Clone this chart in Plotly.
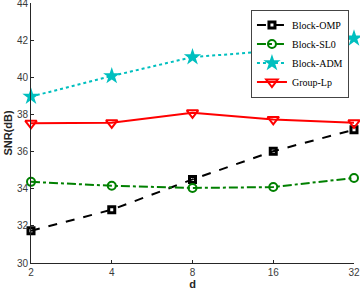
import math
import plotly.graph_objects as go

d_vals = [2, 4, 8, 16, 32]
tick_labels = ["2", "4", "8", "16", "32"]
y_ticks = [30, 32, 34, 36, 38, 40, 42, 44]
omp = [31.73, 32.87, 34.5, 36.02, 37.18]
sl0 = [34.37, 34.16, 34.04, 34.09, 34.58]
adm = [38.96, 40.07, 41.09, 41.42, 42.1]
glp = [37.52, 37.55, 38.09, 37.73, 37.55]

fig = go.Figure()
fig.add_trace(go.Scatter(x=d_vals, y=omp, name="Block-OMP", mode="lines+markers",
                         line=dict(color="black", width=2, dash="dash"),
                         marker=dict(symbol="square-open", size=6, color="black", line=dict(width=3)),
                         cliponaxis=False))
fig.add_trace(go.Scatter(x=d_vals, y=sl0, name="Block-SL0", mode="lines+markers",
                         line=dict(color="#008000", width=2, dash="dashdot"),
                         marker=dict(symbol="circle-open", size=8, color="#008000", line=dict(width=2)),
                         cliponaxis=False))
fig.add_trace(go.Scatter(x=d_vals, y=adm, name="Block-ADM", mode="lines+markers",
                         line=dict(color="#00BFBF", width=2, dash="dot"),
                         marker=dict(symbol="star", size=13, color="#00BFBF"),
                         cliponaxis=False))
fig.add_trace(go.Scatter(x=d_vals, y=glp, name="Group-Lp", mode="lines+markers",
                         line=dict(color="#FF0000", width=2),
                         marker=dict(symbol="triangle-down-open", size=10, color="#FF0000", line=dict(width=2)),
                         cliponaxis=False))

axis_common = dict(showline=True, linecolor="#262626", linewidth=1, ticks="inside", ticklen=3,
                   tickcolor="#262626", showgrid=False, zeroline=False, mirror=False, automargin=False,
                   ticklabeloverflow="allow",
                   tickfont=dict(family="Liberation Sans, Arial", size=10, color="#3a3a3a"))
eps = 1e-6
fig.update_xaxes(type="log", range=[math.log10(2) - eps, math.log10(32) + eps], tickvals=d_vals, ticktext=tick_labels,
                 title=dict(text="<b>d</b>", font=dict(family="Liberation Sans, Arial", size=11, color="#262626"), standoff=0),
                 **axis_common)
fig.update_yaxes(range=[30, 44.001], tickvals=y_ticks,
                 title=dict(text="<b>SNR(dB)</b>", font=dict(family="Liberation Sans, Arial", size=11, color="#262626"), standoff=2),
                 **axis_common)
fig.update_layout(width=360, height=290, margin=dict(l=31, r=6, t=3, b=27),
                  plot_bgcolor="white", paper_bgcolor="white",
                  legend=dict(x=0.681, y=0.975, xanchor="left", yanchor="top",
                              bgcolor="white", bordercolor="#444444", borderwidth=1,
                              font=dict(family="Liberation Serif, Times New Roman", size=10, color="black"),
                              tracegroupgap=0, itemwidth=30))
fig.write_html("out.html", config={"displayModeBar": False},
               post_script="document.body.style.margin='0';")
